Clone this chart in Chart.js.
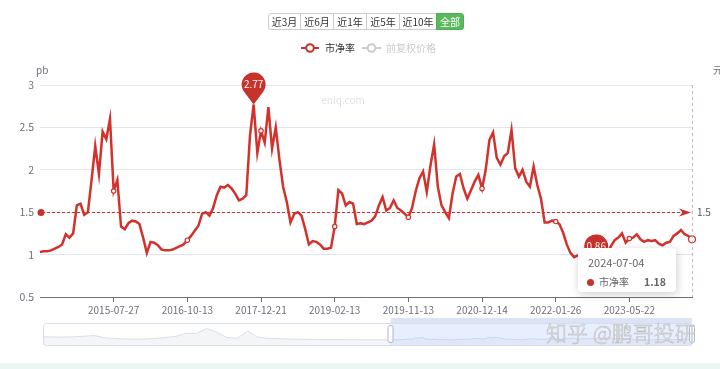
<!DOCTYPE html>
<html><head><meta charset="utf-8">
<script src="https://cdn.jsdelivr.net/npm/chart.js@4.4.1/dist/chart.umd.min.js"></script>
<style>
body{margin:0;background:#fff;font-family:"Noto Sans CJK SC","Noto Sans",sans-serif;}
#wrap{position:relative;width:720px;height:369px;overflow:hidden;background:#fff}
#main{position:absolute;left:0;top:0}
#slider{position:absolute;left:40px;top:314px}
.btns{position:absolute;left:268px;top:13px;display:flex;height:17px}
.btns div{box-sizing:border-box;height:17px;border:1px solid #ccc;margin-left:-1px;font-size:10px;line-height:15px;text-align:center;color:#333;background:#fff}
.btns div:first-child{border-radius:3px 0 0 3px;margin-left:0}
.btns div.on{background:#5cb85c;border-color:#4cae4c;color:#fff;border-radius:0 3px 3px 0}
#tip{position:absolute;width:98px;height:44px;background:#fff;border-radius:4px;box-shadow:1px 2px 10px rgba(0,0,0,0.2);box-sizing:border-box;padding:7px 10px;color:#666}
#tip .t{font-size:11px;line-height:14px;}
#tip .r{display:flex;align-items:center;font-size:10px;margin-top:6px;line-height:14px}
#tip .dot{width:7px;height:7px;border-radius:50%;background:#c7322c;margin-right:5px;margin-left:-1px}
#tip .v{margin-left:auto;font-weight:bold;color:#666;font-size:10.5px}
#wm{position:absolute;left:546px;top:320px;font-size:21px;line-height:24px;color:rgba(235,235,235,0.9);-webkit-text-stroke:0.45px #b4b4b4;white-space:nowrap;font-weight:300}
#band{position:absolute;left:0;top:363px;width:720px;height:6px;background:#e9f6f4}
</style></head>
<body>
<div id="wrap">
<canvas id="main" width="720" height="369"></canvas>
<canvas id="slider" width="660" height="36"></canvas>
<div class="btns"><div style="width:33px">近3月</div><div style="width:34px">近6月</div><div style="width:34px">近1年</div><div style="width:34px">近5年</div><div style="width:38px">近10年</div><div class="on" style="width:28px">全部</div></div>
<div id="tip"><div class="t" id="tipDate"></div><div class="r"><span class="dot"></span><span id="tipName"></span><span class="v" id="tipVal"></span></div></div>
<div id="wm">知乎 @鹏哥投研</div>
<div id="band"></div>
</div>
<script>
// ---- data ----
const seriesName = '市净率';
const seriesName2 = '前复权价格';
const tickDates = ['2015-07-27','2016-10-13','2017-12-21','2019-02-13','2019-11-13','2020-12-14','2022-01-26','2023-05-22'];
const lastDate = '2024-07-04';
const tickEvery = 20;
const pbValues = [
1.03,1.04,1.04,1.05,1.07,1.09,1.12,1.24,1.20,1.25,
1.58,1.60,1.47,1.50,1.88,2.28,1.95,2.45,2.36,2.60,
1.75,1.88,1.33,1.30,1.37,1.40,1.39,1.36,1.20,1.02,
1.15,1.14,1.11,1.06,1.05,1.05,1.06,1.08,1.10,1.12,
1.17,1.22,1.28,1.34,1.48,1.50,1.46,1.55,1.70,1.80,
1.79,1.82,1.78,1.72,1.64,1.66,1.70,2.40,2.77,2.20,
2.46,2.32,2.74,2.25,2.50,2.12,1.80,1.62,1.38,1.48,
1.50,1.46,1.30,1.12,1.16,1.15,1.12,1.07,1.07,1.08,
1.33,1.76,1.72,1.58,1.62,1.60,1.36,1.37,1.36,1.38,
1.40,1.45,1.58,1.68,1.52,1.55,1.64,1.55,1.52,1.48,
1.44,1.55,1.75,1.90,1.98,1.74,2.05,2.30,1.80,1.58,
1.50,1.43,1.72,1.92,1.95,1.78,1.66,1.76,1.86,1.94,
1.78,2.00,2.35,2.44,2.14,2.06,2.16,2.20,2.47,2.02,
1.92,2.00,1.86,1.80,2.04,1.82,1.66,1.38,1.38,1.40,
1.39,1.36,1.26,1.12,1.02,0.97,0.99,0.96,0.92,0.90,
0.88,0.86,0.90,0.95,1.02,1.10,1.17,1.20,1.25,1.14,
1.19,1.20,1.24,1.18,1.15,1.17,1.16,1.17,1.13,1.11,
1.14,1.15,1.22,1.25,1.29,1.24,1.22,1.18];
const avgValue = 1.5;
// earlier history shown only in the zoom slider shadow (every 6 points before the visible range)
const historyStart = -204;
const historyStep = 6;
const historyPb = [3.0,2.9,2.8,3.0,3.3,3.8,2.4,1.9,1.6,1.5,1.6,1.9,2.5,3.3,5.4,5.0,8.4,6.0,2.5,1.9,6.8,2.8,2.0,1.8,1.6,1.5,1.3,1.2,1.1,1.1,1.05,1.05,1.0,1.0];
const yTicks = {min:0.5, max:3, step:0.5};

// ---- styles ----
const LINE = '#d3322c', PIN = '#c7322c', MARK = '#c7322c', AXIS = '#6E7079', GRID = '#E0E6F1';
const FONT = '"Noto Sans CJK SC","Noto Sans",sans-serif';
const lastIdx = pbValues.length - 1;
const isTick = i => i > 0 && i % tickEvery === 0 && (i / tickEvery) <= tickDates.length;
const categories = pbValues.map((_, i) => i === lastIdx ? lastDate : (isTick(i) ? tickDates[i / tickEvery - 1] : ''));

function drawPin(ctx, px, py, text){
  const r = 12, d = 20, cy = py - d;
  const phi = Math.acos(r / d);
  ctx.beginPath();
  ctx.moveTo(px, py);
  ctx.lineTo(px + r * Math.cos(Math.PI/2 + phi), cy + r * Math.sin(Math.PI/2 + phi));
  ctx.arc(px, cy, r, Math.PI/2 + phi, Math.PI * 2 + Math.PI/2 - phi, false);
  ctx.closePath();
  ctx.fillStyle = PIN; ctx.fill();
  ctx.fillStyle = '#fff'; ctx.font = '10px ' + FONT; ctx.textAlign = 'center'; ctx.textBaseline = 'middle';
  ctx.fillText(text, px, cy);
}

const mainDecor = {
  id: 'mainDecor',
  afterDatasetsDraw(chart){
    const {ctx, chartArea: a, scales: {x, y}} = chart;
    ctx.save();
    const lx = Math.round(x.getPixelForValue(lastIdx)) + 0.5;
    ctx.strokeStyle = 'rgba(205,170,170,0.9)'; ctx.lineWidth = 1; ctx.setLineDash([3,3]);
    ctx.beginPath(); ctx.moveTo(lx, a.top); ctx.lineTo(lx, a.bottom); ctx.stroke();
    const ay = Math.round(y.getPixelForValue(avgValue)) + 0.5;
    ctx.strokeStyle = MARK; ctx.setLineDash([3,2]);
    ctx.beginPath(); ctx.moveTo(a.left + 2, ay); ctx.lineTo(a.right - 9, ay); ctx.stroke();
    ctx.setLineDash([]);
    ctx.fillStyle = MARK;
    ctx.beginPath(); ctx.arc(a.left + 1, ay, 3.5, 0, Math.PI * 2); ctx.fill();
    const tx = a.right - 1;
    ctx.beginPath(); ctx.moveTo(tx, ay); ctx.lineTo(tx - 12, ay - 4); ctx.lineTo(tx - 8.5, ay); ctx.lineTo(tx - 12, ay + 4); ctx.closePath(); ctx.fill();
    ctx.fillStyle = '#555'; ctx.font = '10px ' + FONT; ctx.textAlign = 'left'; ctx.textBaseline = 'middle';
    ctx.fillText(String(avgValue), a.right + 5, ay);
    let mx = 0, mn = 0;
    pbValues.forEach((v, i) => { if (v > pbValues[mx]) mx = i; if (v < pbValues[mn]) mn = i; });
    const meta = chart.getDatasetMeta(0).data;
    drawPin(ctx, meta[mx].x, meta[mx].y, pbValues[mx].toFixed(2));
    drawPin(ctx, meta[mn].x, meta[mn].y, pbValues[mn].toFixed(2));
    ctx.restore();
  },
  afterDraw(chart){
    const {ctx} = chart;
    ctx.save();
    ctx.lineWidth = 2; ctx.strokeStyle = PIN;
    ctx.beginPath(); ctx.moveTo(301, 48); ctx.lineTo(319, 48); ctx.stroke();
    ctx.beginPath(); ctx.arc(310, 48, 3.8, 0, Math.PI * 2); ctx.fillStyle = '#fff'; ctx.fill(); ctx.stroke();
    ctx.font = '10px ' + FONT; ctx.textBaseline = 'middle'; ctx.textAlign = 'left';
    ctx.fillStyle = '#333'; ctx.fillText(seriesName, 325, 48.5);
    ctx.strokeStyle = '#ccc';
    ctx.beginPath(); ctx.moveTo(362, 48); ctx.lineTo(381, 48); ctx.stroke();
    ctx.beginPath(); ctx.arc(371.5, 48, 3.8, 0, Math.PI * 2); ctx.fillStyle = '#fff'; ctx.fill(); ctx.stroke();
    ctx.fillStyle = '#ccc'; ctx.fillText(seriesName2, 386, 48.5);
    ctx.fillStyle = AXIS; ctx.fillText('pb', 36, 70);
    ctx.fillText('元', 713, 70);
    ctx.fillStyle = 'rgba(0,0,0,0.13)'; ctx.font = '10px ' + FONT; ctx.textAlign = 'center';
    ctx.fillText('enlq.com', 343, 100);
    ctx.restore();
  }
};

const main = new Chart(document.getElementById('main'), {
  type: 'line',
  data: { labels: categories, datasets: [{
    label: seriesName, data: pbValues, borderColor: LINE, borderWidth: 2.5, tension: 0, fill: false,
    pointRadius: c => c.index === lastIdx ? 3.5 : (isTick(c.index) ? 2.2 : 0),
    pointBackgroundColor: '#fff', pointBorderColor: LINE, pointBorderWidth: 1.2, clip: false
  }]},
  options: {
    responsive: false, animation: false,
    layout: { padding: { top: 85, right: 28, left: 0, bottom: 0 } },
    plugins: { legend: { display: false }, tooltip: { enabled: false } },
    scales: {
      x: {
        type: 'category', offset: false,
        grid: { drawOnChartArea: false, drawTicks: true, tickLength: 5, color: c => isTick(c.index) ? AXIS : 'rgba(0,0,0,0)' },
        border: { color: AXIS },
        ticks: { autoSkip: false, maxRotation: 0, minRotation: 0, padding: 2, color: AXIS, font: { size: 10, family: FONT },
          callback: (v, i) => isTick(i) ? categories[i] : '' },
        afterFit(s){ s.height = 72; }
      },
      y: {
        min: yTicks.min, max: yTicks.max,
        ticks: { stepSize: yTicks.step, color: AXIS, font: { size: 10.5, family: FONT }, padding: 6,
          callback: v => String(Math.round(v * 10) / 10) },
        grid: { color: GRID, drawTicks: false },
        border: { display: false },
        afterFit(s){ s.width = 40; }
      }
    }
  },
  plugins: [mainDecor]
});

const lp = main.getDatasetMeta(0).data[lastIdx];
const tip = document.getElementById('tip');
tip.style.left = (lp.x - 114) + 'px';
tip.style.top = (lp.y + 9) + 'px';
document.getElementById('tipDate').textContent = lastDate;
document.getElementById('tipName').textContent = seriesName;
document.getElementById('tipVal').textContent = pbValues[lastIdx].toFixed(2);

// ---- zoom slider ----
const shadowPts = historyPb.map((v, k) => ({ x: historyStart + k * historyStep, y: v }))
  .concat(pbValues.map((v, i) => ({ x: i, y: v })));
const sliderDecor = {
  id: 'sliderDecor',
  afterDraw(chart){
    const {ctx, chartArea: a, scales: {x}} = chart;
    const sx = x.getPixelForValue(0);
    ctx.save();
    ctx.fillStyle = 'rgba(135,175,255,0.2)';
    ctx.fillRect(sx, a.top, a.right - sx, a.bottom - a.top);
    ctx.fillStyle = 'rgba(190,205,240,0.55)';
    ctx.fillRect(sx, a.top - 5, a.right - sx, 5);
    ctx.strokeStyle = '#d8dee9'; ctx.lineWidth = 1;
    ctx.beginPath(); ctx.roundRect(a.left + 0.5, a.top + 0.5, a.right - a.left, a.bottom - a.top, 3); ctx.stroke();
    ctx.fillStyle = '#fff'; ctx.strokeStyle = '#ACB8D1';
    ctx.beginPath(); ctx.roundRect(sx - 2.5, a.top + 2.5, 5, 17, 2); ctx.fill(); ctx.stroke();
    ctx.beginPath(); ctx.roundRect(a.right - 2.5, a.top + 2.5, 5, 17, 2); ctx.fill(); ctx.stroke();
    ctx.restore();
  }
};
new Chart(document.getElementById('slider'), {
  type: 'line',
  data: { datasets: [{ data: shadowPts, borderColor: 'rgba(170,180,200,0.55)', borderWidth: 0.7, pointRadius: 0,
    fill: 'start', backgroundColor: 'rgba(200,205,215,0.2)', tension: 0 }] },
  options: {
    responsive: false, animation: false,
    layout: { padding: { left: 3, right: 8, top: 9, bottom: 5 } },
    plugins: { legend: { display: false }, tooltip: { enabled: false } },
    scales: {
      x: { type: 'linear', display: false, min: historyStart, max: lastIdx },
      y: { display: false, min: -2.4, max: 12 }
    }
  },
  plugins: [sliderDecor]
});
</script>
</body></html>
